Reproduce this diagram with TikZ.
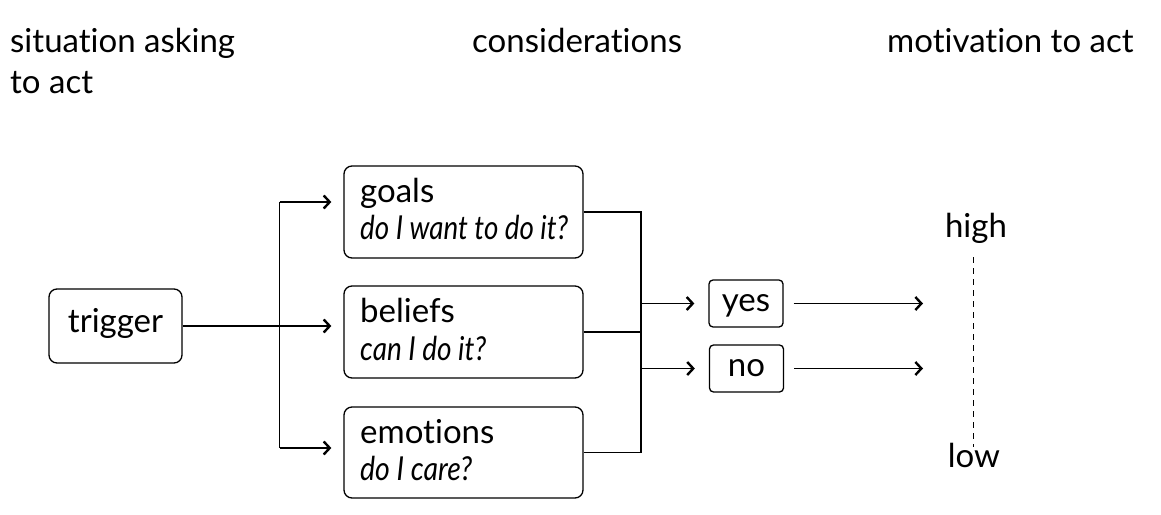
\documentclass[tikz,border=0pt]{standalone}
\usepackage{fontspec}
\setmainfont{Lato}[Ligatures={NoCommon}, Contextuals={NoAlternate}]
\usetikzlibrary{arrows.meta}
\newcommand{\narrow}[2]{\resizebox{#1}{\height}{\itshape #2}}
\begin{document}
\begin{tikzpicture}[x=1pt,y=-1pt,
  box/.style={draw, line width=1.3pt, rounded corners=8pt, inner sep=0pt},
  smallbox/.style={draw, line width=1.3pt, rounded corners=4pt, inner sep=0pt, minimum width=74pt, minimum height=47pt, text height=15pt, text depth=0pt},
  big/.style={font=\fontsize{33}{40}\selectfont},
  lbl/.style={big, anchor=base west, inner sep=0pt},
  conn/.style={line width=1.3pt},
  arr/.style={conn, -{Straight Barb[length=6pt,width=13pt,line width=2.4pt]}},
]
\useasboundingbox (0,0) rectangle (1161,514);
% titles
\node[lbl] (t1) at (10,52) {situation asking};
\node[lbl] (t1b) at (10,93) {to act};
\node[lbl] (t2) at (472,52) {considerations};
\node[lbl] (t3) at (887,52) {motivation to act};
% trigger
\node[box, big, minimum width=133pt, minimum height=74pt, text height=12pt, text depth=0pt] (trigger) at (115.5,326) {trigger};
% consideration boxes
\node[box, minimum width=239pt, minimum height=92pt] (goals) at (463.5,212) {};
\node[lbl] (goalsA) at (360,202) {goals};
\node[lbl] (goalsB) at (360,239) {\narrow{208pt}{do I want to do it?}};
\node[box, minimum width=239pt, minimum height=92pt] (beliefs) at (463.5,332) {};
\node[lbl] (beliefsA) at (360,322) {beliefs};
\node[lbl] (beliefsB) at (360,360) {\narrow{126pt}{can I do it?}};
\node[box, minimum width=239pt, minimum height=91pt] (emotions) at (463.5,452.5) {};
\node[lbl] (emotionsA) at (360,443) {emotions};
\node[lbl] (emotionsB) at (360,480) {\narrow{112pt}{do I care?}};
% yes / no
\node[smallbox, big] (yes) at (746,303.5) {yes};
\node[smallbox, big] (no) at (746.5,368.5) {no};
% high / low
\node[big, anchor=base, inner sep=0pt] (high) at (976,237) {high};
\node[big, anchor=base, inner sep=0pt] (low) at (974,467) {low};
% helper coordinates
\coordinate (split) at (279.5,0);
\coordinate (merge) at (641,0);
\coordinate (arrEnd) at (923,0);
\coordinate (axis) at (973,0);
\coordinate (gin) at ([yshift=10pt]goals.west);
\coordinate (ein) at ([yshift=4.5pt]emotions.west);
% left connectors
\draw[arr, shorten >=12pt] (trigger.east) -- (trigger.east -| beliefs.west);
\draw[conn] (split |- gin) -- (split |- ein);
\draw[arr, shorten >=12pt] (split |- gin) -- (gin);
\draw[arr, shorten >=12pt] (split |- ein) -- (ein);
% right connectors
\draw[conn] (goals.east) -- (goals.east -| merge) -- (merge |- emotions.east) -- (emotions.east);
\draw[conn] (beliefs.east) -- (beliefs.east -| merge);
\draw[arr, shorten >=14pt] (merge |- yes.west) -- (yes.west);
\draw[arr, shorten >=14pt] (merge |- no.west) -- (no.west);
\draw[arr, shorten <=10pt] (yes.east) -- (yes.east -| arrEnd);
\draw[arr, shorten <=10pt] (no.east) -- (no.east -| arrEnd);
% scale
\draw[line width=1pt, dash pattern=on 6pt off 5pt, shorten <=14pt, shorten >=-4pt] (axis |- high.south) -- (axis |- low.north);
\end{tikzpicture}
\end{document}
